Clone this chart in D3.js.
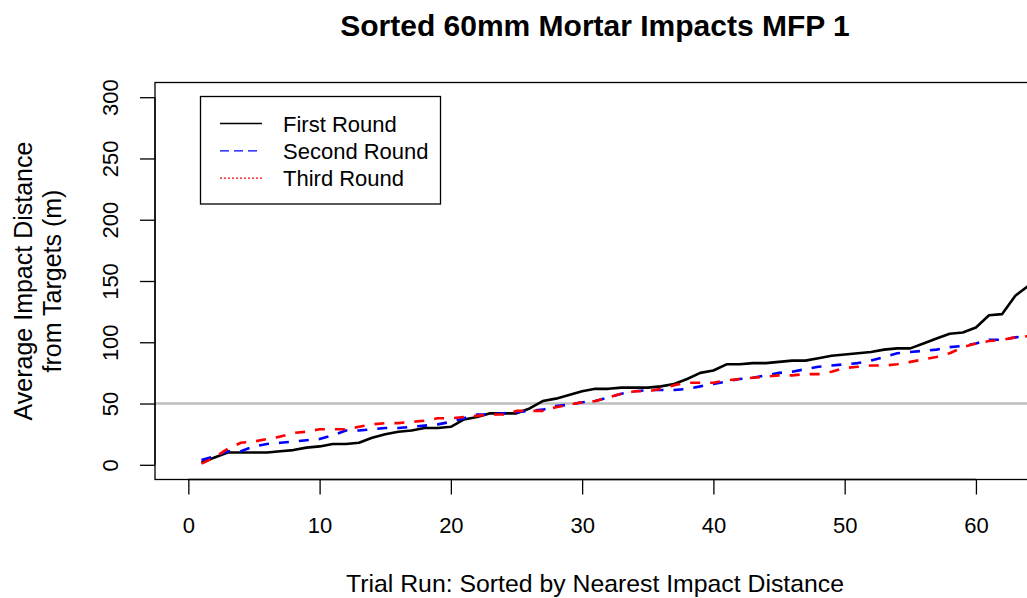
<!DOCTYPE html>
<html>
<head>
<meta charset="utf-8">
<script src="https://cdn.jsdelivr.net/npm/d3@7"></script>
<style>
  html, body { margin: 0; padding: 0; background: #fff; overflow: hidden; }
  svg { display: block; font-family: "Liberation Sans", Arial, Helvetica, sans-serif; }
</style>
</head>
<body>
<svg id="chart" width="1027" height="598"></svg>
<script>
// Average impact distance (m) per trial run, each round sorted ascending
const firstRound = [
  2, 6, 10, 10, 10, 10, 11, 12, 14, 15,
  17, 17, 18, 22, 25, 27, 28, 30, 30, 31,
  37, 39, 42, 42, 42, 46, 52, 54, 57, 60,
  62, 62, 63, 63, 63, 64, 66, 70, 75, 77,
  82, 82, 83, 83, 84, 85, 85, 87, 89, 90,
  91, 92, 94, 95, 95, 99, 103, 107, 108, 112,
  122, 123, 138, 146
];
const secondRound = [
  4, 7, 11, 11, 15, 17, 18, 19, 20, 21,
  24, 28, 28, 29, 30, 30, 31, 32, 33, 35,
  38, 41, 41, 42, 43, 44, 45, 48, 49, 51,
  52, 55, 58, 60, 61, 61, 61, 62, 64, 66,
  68, 70, 71, 73, 75, 76, 78, 80, 81, 82,
  83, 85, 88, 91, 92, 93, 94, 96, 97, 99,
  102, 102, 104, 105
];
const thirdRound = [
  1, 6, 13, 18, 19, 21, 23, 26, 27, 29,
  29, 29, 31, 33, 34, 34, 35, 36, 38, 38,
  39, 40, 41, 41, 44, 44, 44, 47, 49, 51,
  52, 55, 58, 60, 60, 62, 65, 67, 67, 67,
  69, 70, 71, 72, 73, 73, 74, 74, 76, 79,
  80, 81, 81, 82, 84, 86, 88, 91, 96, 99,
  101, 102, 104, 105
];
const seriesNames = ["First Round", "Second Round", "Third Round"];
const xTicks = [0, 10, 20, 30, 40, 50, 60];
const yTicks = [0, 50, 100, 150, 200, 250, 300];
const referenceDistance = 50;

const svg = d3.select("#chart");
const plot = { left: 155, right: 1035, top: 82.5, bottom: 479.5 };

const x = d3.scaleLinear().domain([-2.54, 64.5]).range([plot.left, plot.right]);
const y = d3.scaleLinear().domain([-12, 312]).range([plot.bottom, plot.top]);

svg.append("defs").append("clipPath").attr("id", "plot-clip")
  .append("rect")
  .attr("x", plot.left).attr("y", plot.top)
  .attr("width", plot.right - plot.left).attr("height", plot.bottom - plot.top);

const body = svg.append("g").attr("clip-path", "url(#plot-clip)");

// reference line at 50 m
body.append("line")
  .attr("x1", plot.left).attr("x2", plot.right)
  .attr("y1", y(referenceDistance)).attr("y2", y(referenceDistance))
  .attr("stroke", "#bebebe").attr("stroke-width", 2.5);

const line = d3.line()
  .x((d, i) => x(i + 1))
  .y(d => y(d));

const series = [
  { values: firstRound,  color: "#000000", dash: null },
  { values: secondRound, color: "#0000ff", dash: "10,10" },
  { values: thirdRound,  color: "#ff0000", dash: "10,10" }
];

series.forEach(s => {
  body.append("path")
    .datum(s.values)
    .attr("d", line)
    .attr("fill", "none")
    .attr("stroke", s.color)
    .attr("stroke-width", 2.6)
    .attr("stroke-linejoin", "round")
    .attr("stroke-dasharray", s.dash);
});

// plot frame
svg.append("rect")
  .attr("x", plot.left).attr("y", plot.top)
  .attr("width", plot.right - plot.left).attr("height", plot.bottom - plot.top)
  .attr("fill", "none").attr("stroke", "#000").attr("stroke-width", 1.3);

// x axis
const gx = svg.append("g")
  .attr("transform", `translate(0,${plot.bottom})`)
  .call(d3.axisBottom(x).tickValues(xTicks).tickSize(15).tickSizeOuter(0).tickFormat(d3.format("d")));
gx.select(".domain").remove();
gx.append("line")
  .attr("x1", x(xTicks[0])).attr("x2", x(xTicks[xTicks.length - 1]))
  .attr("stroke", "#000").attr("stroke-width", 1.3);
gx.selectAll(".tick line").attr("stroke", "#000").attr("stroke-width", 1.3);
gx.selectAll(".tick text")
  .attr("y", 53.5).attr("dy", null)
  .attr("font-size", 22).attr("font-family", "Liberation Sans, Arial, sans-serif")
  .attr("fill", "#000");

// y axis
const gy = svg.append("g")
  .attr("transform", `translate(${plot.left},0)`)
  .call(d3.axisLeft(y).tickValues(yTicks).tickSize(15).tickSizeOuter(0).tickFormat(d3.format("d")));
gy.select(".domain").remove();
gy.append("line")
  .attr("y1", y(yTicks[0])).attr("y2", y(yTicks[yTicks.length - 1]))
  .attr("stroke", "#000").attr("stroke-width", 1.3);
gy.selectAll(".tick line").attr("stroke", "#000").attr("stroke-width", 1.3);
gy.selectAll(".tick text")
  .attr("x", 0).attr("y", -37).attr("dy", null)
  .attr("transform", "rotate(-90)")
  .attr("text-anchor", "middle")
  .attr("font-size", 22).attr("font-family", "Liberation Sans, Arial, sans-serif")
  .attr("fill", "#000");

// title and axis labels
const midX = (plot.left + plot.right) / 2;
const midY = (plot.top + plot.bottom) / 2;

svg.append("text")
  .attr("x", midX).attr("y", 36)
  .attr("text-anchor", "middle")
  .attr("font-size", 30).attr("font-weight", "bold")
  .text("Sorted 60mm Mortar Impacts MFP 1");

svg.append("text")
  .attr("x", midX).attr("y", 592)
  .attr("text-anchor", "middle")
  .attr("font-size", 24.8)
  .text("Trial Run: Sorted by Nearest Impact Distance");

[["Average Impact Distance", 32], ["from Targets (m)", 61]].forEach(([label, bx]) => {
  svg.append("text")
    .attr("transform", `translate(${bx},${midY}) rotate(-90)`)
    .attr("text-anchor", "middle")
    .attr("font-size", 25)
    .text(label);
});

// legend
const legend = svg.append("g");
legend.append("rect")
  .attr("x", 200.5).attr("y", 96.5).attr("width", 240).attr("height", 107.5)
  .attr("fill", "#fff").attr("stroke", "#000").attr("stroke-width", 1.3);

const legendDash = [null, "9,5", "2,2"];
const legendColor = ["#000000", "#0000ff", "#ff0000"];
seriesNames.forEach((name, i) => {
  const cy = 123.5 + i * 27.3;
  legend.append("line")
    .attr("x1", 220).attr("x2", 262).attr("y1", cy).attr("y2", cy)
    .attr("stroke", legendColor[i]).attr("stroke-width", 1.3)
    .attr("stroke-dasharray", legendDash[i]);
  legend.append("text")
    .attr("x", 283).attr("y", cy + 8)
    .attr("font-size", 22)
    .text(name);
});
</script>
</body>
</html>
